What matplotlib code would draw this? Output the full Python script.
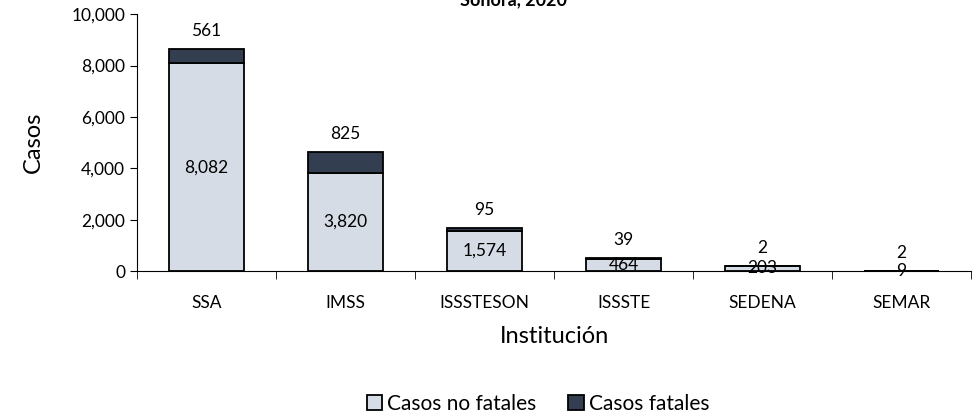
import numpy as np
import matplotlib.pyplot as plt
from matplotlib.ticker import FuncFormatter

plt.rcParams['font.family'] = ['Lato', 'DejaVu Sans']

# datos
instituciones = ['SSA', 'IMSS', 'ISSSTESON', 'ISSSTE', 'SEDENA', 'SEMAR']
no_fatales = [8082, 3820, 1574, 464, 203, 9]
fatales = [561, 825, 95, 39, 2, 2]

color_nf = '#D6DCE5'
color_f = '#333F50'

fig = plt.figure(figsize=(9.78, 4.17), dpi=100)
ax = fig.add_axes([0.140, 0.350, 0.853, 0.616])

x = np.arange(len(instituciones))
w = 0.54

ax.bar(x, no_fatales, w, color=color_nf, edgecolor='black', linewidth=1.3,
       label='Casos no fatales')
ax.bar(x, fatales, w, bottom=no_fatales, color=color_f, edgecolor='black',
       linewidth=1.3, label='Casos fatales')

# etiquetas de valores
for i in range(len(x)):
    ax.text(x[i], no_fatales[i] / 2, f'{no_fatales[i]:,}', ha='center',
            va='center', fontsize=12.5)
    ax.annotate(f'{fatales[i]:,}', (x[i], no_fatales[i] + fatales[i]),
                xytext=(0, 13), textcoords='offset points', ha='center',
                va='center', fontsize=12.5)

ax.set_xlim(-0.5, len(x) - 0.5)
ax.set_ylim(0, 10000)
ax.set_yticks(np.arange(0, 10001, 2000))
ax.yaxis.set_major_formatter(FuncFormatter(lambda v, p: f'{int(v):,}'))

ax.set_xticks(x)
ax.set_xticklabels(instituciones)
ax.set_xticks(np.arange(-0.5, len(x), 1), minor=True)
ax.tick_params(axis='x', which='major', length=0, labelsize=12.5, pad=17)
ax.tick_params(axis='x', which='minor', length=6, direction='out')
ax.tick_params(axis='y', labelsize=12.5, length=5, direction='out')

ax.spines['top'].set_visible(False)
ax.spines['right'].set_visible(False)

ax.set_ylabel('Casos', fontsize=17, labelpad=20)
ax.set_xlabel('Institución', fontsize=17, labelpad=11)

fig.text(514 / 978, 1 - 5 / 417, 'Sonora, 2020', ha='center', va='baseline',
         fontsize=13, fontweight='bold')

fig.legend(loc='center', bbox_to_anchor=(538 / 978, 1 - 404 / 417), ncol=2,
           frameon=False, fontsize=15, handlelength=0.75, handleheight=0.75,
           handletextpad=0.25, columnspacing=1.5)

fig.savefig('out.png', dpi=100)
